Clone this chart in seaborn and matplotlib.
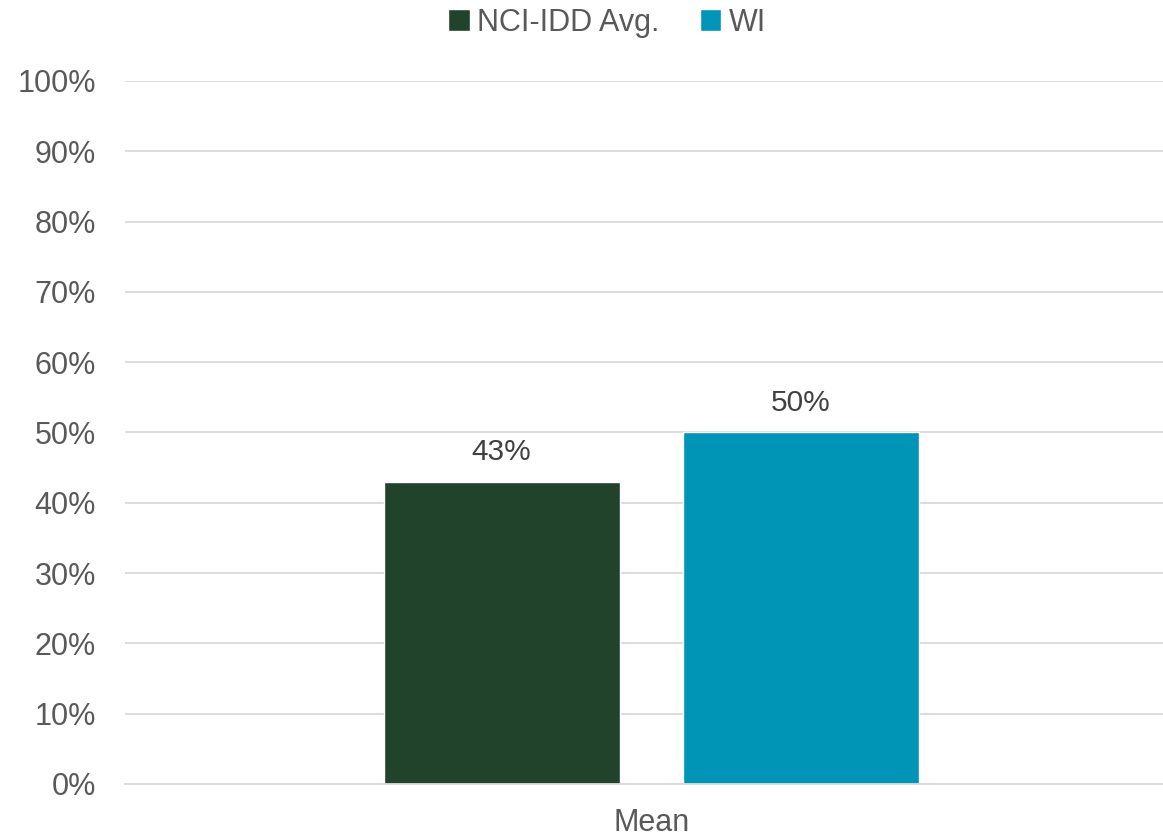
import matplotlib
matplotlib.use("Agg")
import matplotlib.pyplot as plt
import seaborn as sns
import pandas as pd
from matplotlib.ticker import PercentFormatter, MultipleLocator
from matplotlib.patches import Patch

categories = ["Mean"]
series = ["NCI-IDD Avg.", "WI"]
values = [43, 50]
colors = ["#22432B", "#0095B6"]

df = pd.DataFrame({"cat": categories * len(series), "series": series, "value": values})

sns.set_theme(style="white")
plt.rcParams["font.family"] = ["Liberation Sans", "DejaVu Sans"]

fig = plt.figure(figsize=(11.63, 8.4), dpi=100)
ax = fig.add_axes([0.1075, 0.0667, 0.8925, 0.8369])

sns.barplot(data=df, x="cat", y="value", hue="series", palette=colors,
            width=0.577, gap=0.212, saturation=1, legend=False, ax=ax)

ax.set_ylim(0, 100)
ax.set_xlim(-0.507, 0.493)
ax.yaxis.set_major_locator(MultipleLocator(10))
ax.yaxis.set_major_formatter(PercentFormatter(decimals=0))
ax.grid(axis="y", color="#D9D9D9", linewidth=1.3)
ax.set_axisbelow(True)
for s in ["top", "right", "left"]:
    ax.spines[s].set_visible(False)
ax.spines["bottom"].set_color("#D9D9D9")
ax.spines["bottom"].set_linewidth(1.3)
ax.tick_params(axis="y", length=0, pad=21, labelsize=22, labelcolor="#595959")
ax.tick_params(axis="x", length=0, pad=17, labelsize=22, labelcolor="#595959")
ax.set_xlabel("")
ax.set_ylabel("")

for cont in ax.containers:
    for bar in cont:
        h = bar.get_height()
        ax.annotate(f"{h:.0f}%", (bar.get_x() + bar.get_width() / 2, h),
                    xytext=(0, 11), textcoords="offset points",
                    ha="center", va="bottom", fontsize=21.5, color="#404040")

handles = [Patch(facecolor=c, label=s) for s, c in zip(series, colors)]
fig.legend(handles=handles, loc="center", bbox_to_anchor=(0.522, 0.973), ncol=2,
           frameon=False, fontsize=22, labelcolor="#595959",
           handlelength=0.7, handleheight=0.7, handletextpad=0.25, columnspacing=1.3)

fig.savefig("out.png", dpi=100, facecolor="white")
